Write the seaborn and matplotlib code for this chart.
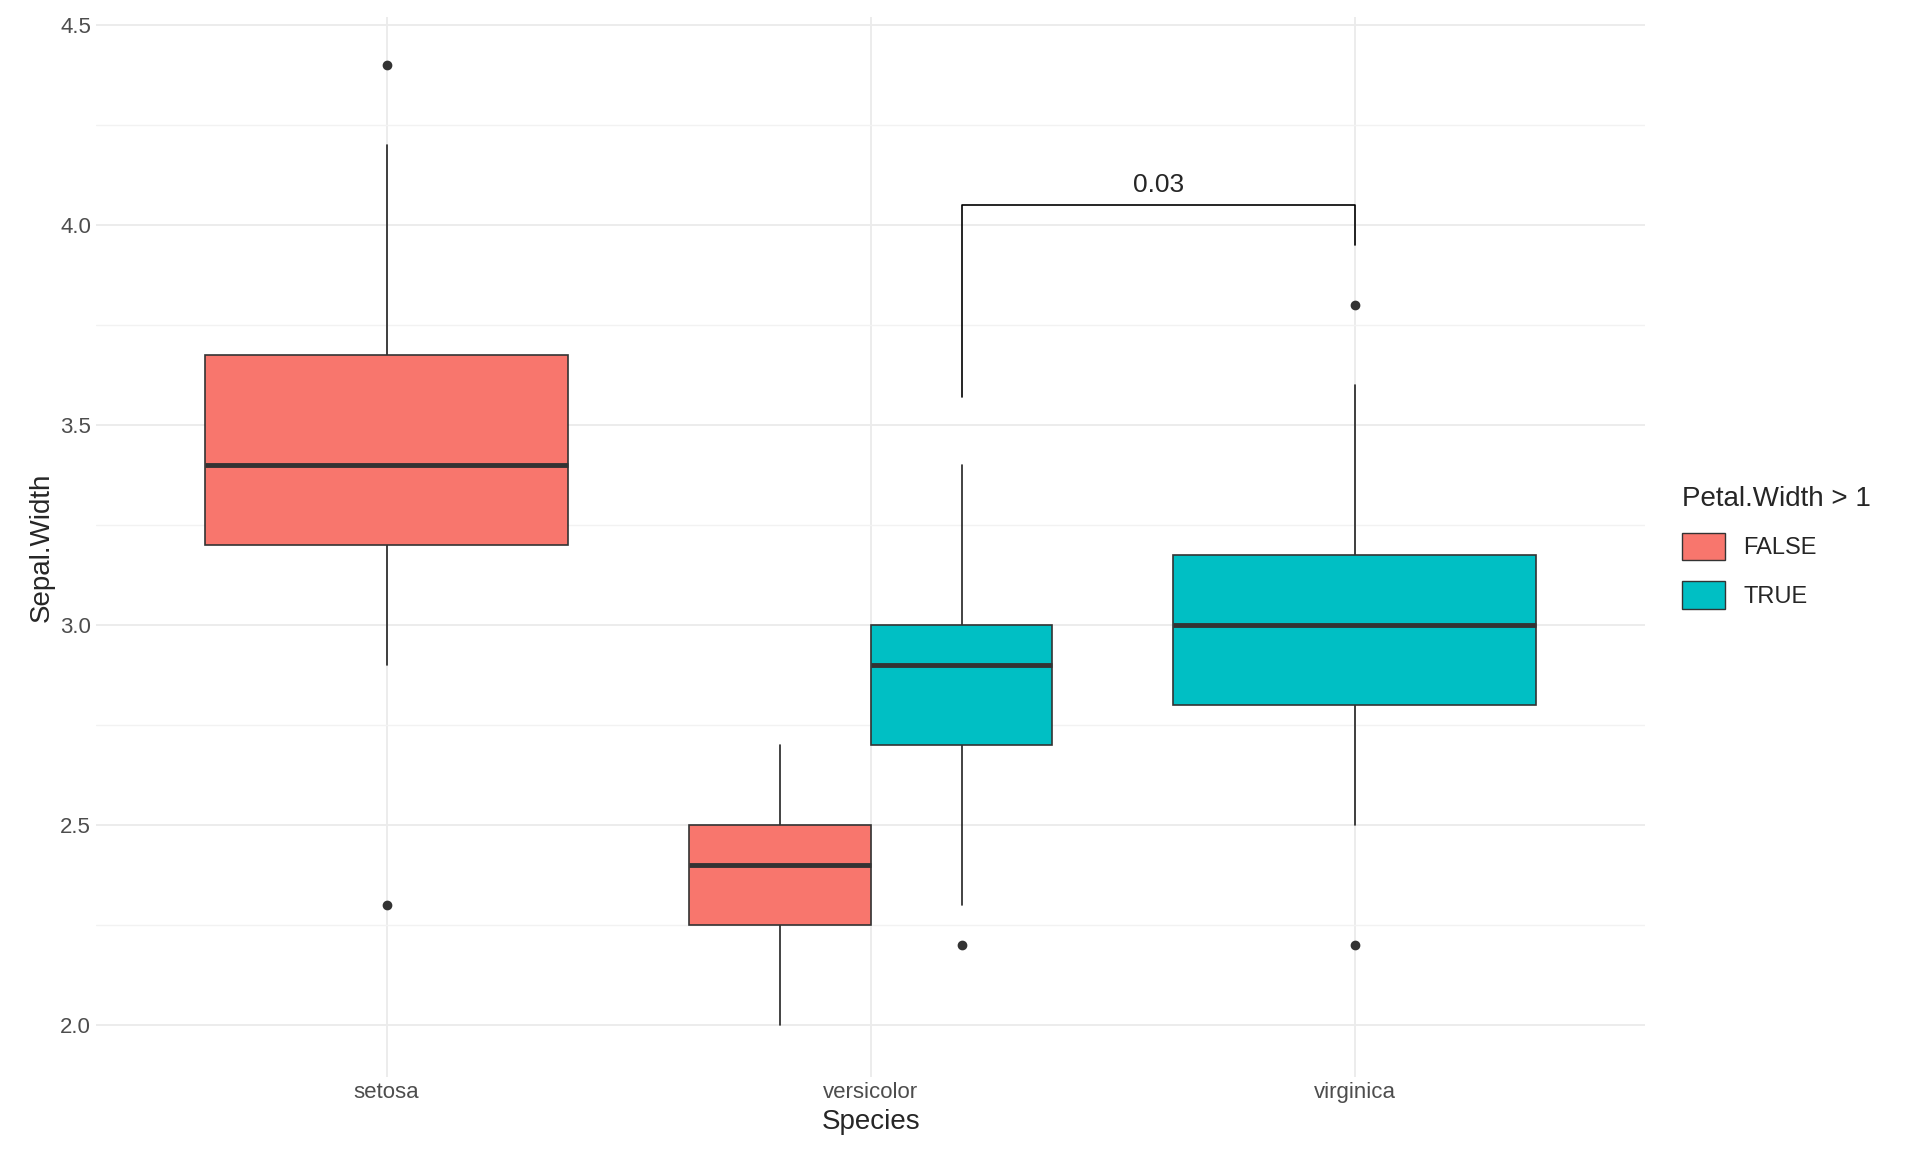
import numpy as np
import matplotlib.pyplot as plt
import seaborn as sns
from matplotlib.patches import Patch
from matplotlib.ticker import MultipleLocator

sns.set_theme(style="whitegrid")
plt.rcParams["font.family"] = ["Liberation Sans", "DejaVu Sans"]

PALETTE = {"FALSE": "#F8766D", "TRUE": "#00BFC4"}
species = ["setosa", "versicolor", "virginica"]

# box statistics (species, group, position offset, width)
boxes = [
    ("setosa", "FALSE", 0.0, 0.75, dict(q1=3.2, med=3.4, q3=3.675, whislo=2.9, whishi=4.2, fliers=[4.4, 2.3])),
    ("versicolor", "FALSE", -0.1875, 0.375, dict(q1=2.25, med=2.4, q3=2.5, whislo=2.0, whishi=2.7, fliers=[])),
    ("versicolor", "TRUE", 0.1875, 0.375, dict(q1=2.7, med=2.9, q3=3.0, whislo=2.3, whishi=3.4, fliers=[2.2])),
    ("virginica", "TRUE", 0.0, 0.75, dict(q1=2.8, med=3.0, q3=3.175, whislo=2.5, whishi=3.6, fliers=[3.8, 2.2])),
]

fig, ax = plt.subplots(figsize=(19.2, 11.52), dpi=100)

for sp, grp, off, w, st in boxes:
    pos = species.index(sp) + 1 + off
    res = ax.bxp([st], positions=[pos], widths=w, patch_artist=True, showcaps=False,
                 boxprops=dict(facecolor=PALETTE[grp], edgecolor="#333333", linewidth=1.2),
                 medianprops=dict(color="#333333", linewidth=3.5),
                 whiskerprops=dict(color="#222222", linewidth=1.2),
                 flierprops=dict(marker="o", markersize=6, markerfacecolor="#333333",
                                 markeredgecolor="#333333"))
    for b in res["boxes"]:
        b.set_zorder(3)
    for m in res["medians"]:
        m.set_zorder(4)

# significance bracket
x1, x2 = 2.1875, 3.0
ax.plot([x1, x1, x2, x2], [3.57, 4.05, 4.05, 3.95], color="black", linewidth=1.2)
ax.text((x1 + x2) / 2, 4.07, "0.03", ha="center", va="bottom", fontsize=19)

ax.set_xlim(0.4, 3.6)
ax.set_ylim(1.87, 4.52)
ax.set_xticks([1, 2, 3])
ax.set_xticklabels(species)
ax.yaxis.set_major_locator(MultipleLocator(0.5))
ax.yaxis.set_minor_locator(MultipleLocator(0.25))
ax.yaxis.set_major_formatter(plt.FormatStrFormatter("%.1f"))
ax.grid(which="major", color="#EBEBEB", linewidth=1.3)
ax.grid(which="minor", axis="y", color="#F2F2F2", linewidth=1.0)
ax.set_axisbelow(True)
for s in ax.spines.values():
    s.set_visible(False)
ax.tick_params(axis="both", labelsize=16, colors="#4D4D4D", length=0)
ax.set_xlabel("Species", fontsize=20)
ax.set_ylabel("Sepal.Width", fontsize=20)

handles = [Patch(facecolor=PALETTE[k], edgecolor="#333333", label=k) for k in ["FALSE", "TRUE"]]
leg = ax.legend(handles=handles, title="Petal.Width > 1", loc="center left",
                bbox_to_anchor=(1.01, 0.5), frameon=False, fontsize=17,
                title_fontsize=20, handlelength=1.8, handleheight=1.4, labelspacing=0.9)
leg._legend_box.align = "left"

plt.subplots_adjust(left=0.05, right=0.857, top=0.985, bottom=0.065)
plt.savefig("out.png", dpi=100)
